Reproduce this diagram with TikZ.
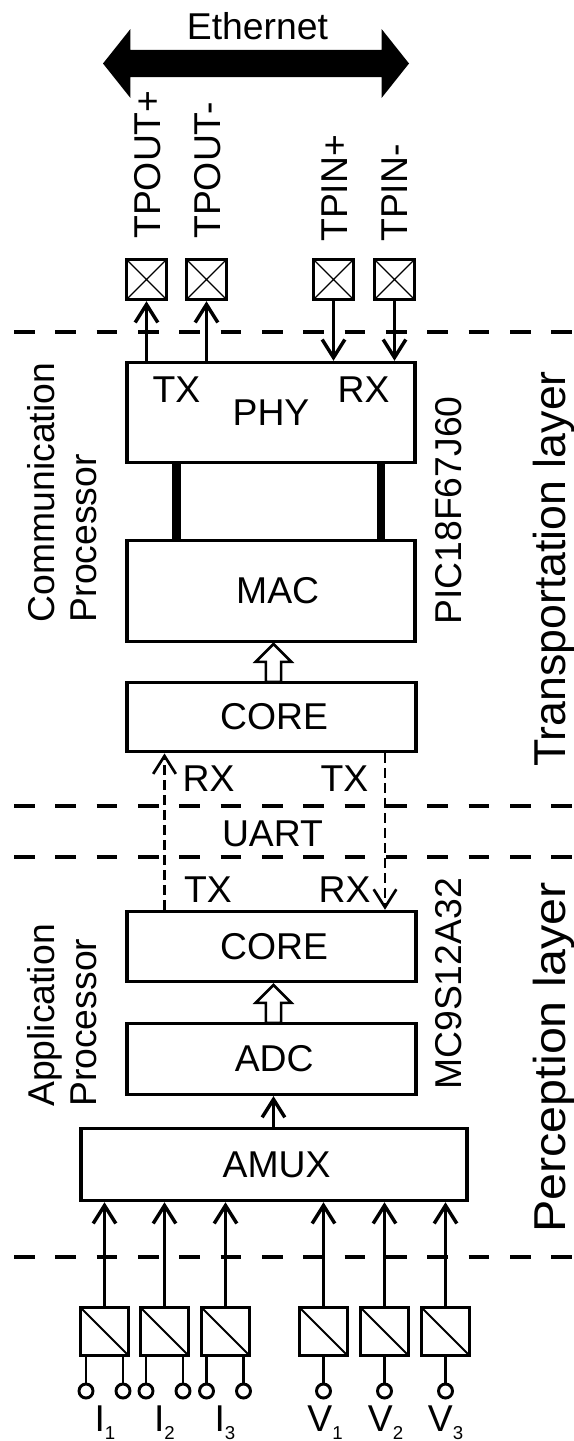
\documentclass[tikz,border=0pt]{standalone}
\usepackage{fontspec}
\setmainfont{Liberation Sans}
\usetikzlibrary{arrows.meta,calc,positioning,shapes.arrows}

\tikzset{
blockbox/.style={draw,line width=2.6pt,inner sep=0pt,font=\lbl},
padbox/.style={draw,line width=2.6pt,minimum size=30pt,inner sep=0pt,
  path picture={\draw[line width=1pt] (path picture bounding box.north west)--(path picture bounding box.south east)
  (path picture bounding box.north east)--(path picture bounding box.south west);}},
adcbox/.style={draw,line width=2.4pt,minimum size=36pt,inner sep=0pt,
  path picture={\draw[line width=1.5pt] (path picture bounding box.north west)--(path picture bounding box.south east);}},
term/.style={draw,circle,line width=2.2pt,minimum size=10.5pt,inner sep=0pt},
lab/.style={inner sep=0pt,font=\lbl},
vlab/.style={inner sep=0pt,font=\lbl,rotate=90,anchor=base west},
wire/.style={line width=2.4pt,-{Straight Barb[length=13.5pt,width=17pt,line width=2.6pt]}},
lowwire/.style={line width=1.9pt,-{Straight Barb[length=13.5pt,width=17pt,line width=2.6pt]}},
thinwire/.style={line width=1.7pt},
dashwire/.style={line width=1.6pt,dash pattern=on 7.5pt off 3.75pt,-{Straight Barb[length=13.5pt,width=17pt,line width=2pt]}},
levelline/.style={line width=2.6pt,dash pattern=on 15.5pt off 15.5pt},
hollow/.style={draw,line width=1.9pt,single arrow,shape border rotate=90,minimum height=28.5pt,
  single arrow head extend=7.6pt,inner sep=4.8pt,outer sep=0pt,anchor=tail},
}
\newcommand{\lbl}{\fontsize{28}{31.5}\selectfont}
\newcommand{\lowsub}[1]{\raisebox{-6pt}{\fontsize{14}{14}\selectfont #1}}

\begin{document}
\begin{tikzpicture}[x=0.75pt,y=-0.75pt]
\useasboundingbox (0,0) rectangle (574,1441);

% ethernet bus
\node[fill=black,double arrow,minimum height=229.5pt,double arrow head extend=15.4pt,
  double arrow tip angle=103,inner ysep=10.1pt,inner xsep=0pt] (bus) at (256,63.5) {};
\node[lab,anchor=base] (ethernet) at (257.5,40) {Ethernet};

% pads
\node[padbox] (padA) at (146.5,279.5) {};
\node[padbox] (padB) at (206.5,279.5) {};
\node[padbox] (padC) at (333.5,279.5) {};
\node[padbox] (padD) at (394.5,279.5) {};
\node[vlab] (tpoutp) at (160,239) {TPOUT+};
\node[vlab] (tpoutm) at (220,239) {TPOUT-};
\node[vlab] (tpinp) at (347,242) {TPIN+};
\node[vlab] (tpinm) at (407,242) {TPIN-};

% level lines
\coordinate (la) at (14,332);  \coordinate (lb) at (574,332);
\coordinate (lc) at (14,806);  \coordinate (ld) at (574,806);
\coordinate (le) at (14,857);  \coordinate (lf) at (574,857);
\coordinate (lg) at (14,1257); \coordinate (lh) at (574,1257);
\draw[levelline] (la) -- (lb);
\draw[levelline] (lc) -- (ld);
\draw[levelline] (le) -- (lf);
\draw[levelline] (lg) -- (lh);

% blocks
\node[blockbox,minimum width=216pt,minimum height=75pt] (phy) at (271,412.5) {PHY};
\node[blockbox,minimum width=216pt,minimum height=76pt] (mac) at (271,591) {\hspace*{10pt}MAC};
\node[blockbox,minimum width=217pt,minimum height=52pt] (corec) at (271.5,717) {\hspace*{4pt}CORE};
\node[blockbox,minimum width=217pt,minimum height=52.5pt] (corea) at (271.5,946.5) {\hspace*{4pt}CORE};
\node[blockbox,minimum width=217pt,minimum height=53pt] (adc) at (271.5,1059) {\hspace*{4pt}ADC};
\node[blockbox,minimum width=289.5pt,minimum height=54pt] (amux) at (274,1164.5) {\hspace*{4pt}AMUX};

% pad wires
\draw[wire] (phy.north -| padA) -- (padA.south);
\draw[wire] (phy.north -| padB) -- (padB.south);
\draw[wire] (padC.south) -- (phy.north -| padC);
\draw[wire] (padD.south) -- (phy.north -| padD);

% phy to mac
\coordinate (busl) at (176.5,0);
\coordinate (busr) at (381,0);
\draw[line width=6.6pt] (phy.south -| busl) -- (mac.north -| busl);
\draw[line width=6.6pt] (phy.south -| busr) -- (mac.north -| busr);

% hollow arrows
\node[hollow] (uparrowc) at (273.5,682) {};
\node[hollow] (uparrowa) at (273.5,1023) {};

% uart
\coordinate (rxl) at (164.5,0);
\coordinate (txr) at (385,0);
\draw[dashwire] (corea.north -| rxl) -- (corec.south -| rxl);
\draw[dashwire] (corec.south -| txr) -- (corea.north -| txr);

\node[lab] (phytx) at (176.5,390) {TX};
\node[lab] (phyrx) at (363.5,390) {RX};
\node[lab] (corerx) at (208.5,778.5) {RX};
\node[lab] (coretx) at (344.5,778.5) {TX};
\node[lab] (uart) at (272.5,833.5) {UART};
\node[lab] (apptx) at (208,889.5) {TX};
\node[lab] (apprx) at (344.5,889.5) {RX};

% adc to amux
\coordinate (muxout) at (273.5,0);
\draw[lowwire] (amux.north -| muxout) -- (adc.south -| muxout);

% converters
\node[adcbox] (convA) at (104.5,1331.5) {};
\node[adcbox] (convB) at (164.5,1331.5) {};
\node[adcbox] (convC) at (225.5,1331.5) {};
\node[adcbox] (convD) at (323.5,1331.5) {};
\node[adcbox] (convE) at (384.5,1331.5) {};
\node[adcbox] (convF) at (445.5,1331.5) {};
\draw[lowwire] (convA.north) -- (amux.south -| convA);
\draw[lowwire] (convB.north) -- (amux.south -| convB);
\draw[lowwire] (convC.north) -- (amux.south -| convC);
\draw[lowwire] (convD.north) -- (amux.south -| convD);
\draw[lowwire] (convE.north) -- (amux.south -| convE);
\draw[lowwire] (convF.north) -- (amux.south -| convF);

% terminals
\node[term] (ia) at (86,1391) {};
\node[term] (ib) at (123,1391) {};
\node[term] (ic) at (146,1391) {};
\node[term] (id) at (183,1391) {};
\node[term] (ie) at (206.5,1391) {};
\node[term] (if) at (243.5,1391) {};
\node[term] (va) at (323.5,1391) {};
\node[term] (vb) at (384.5,1391) {};
\node[term] (vc) at (445.5,1391) {};
\draw[thinwire] (ia) -- (convA.south -| ia);
\draw[thinwire] (ib) -- (convA.south -| ib);
\draw[thinwire] (ic) -- (convB.south -| ic);
\draw[thinwire] (id) -- (convB.south -| id);
\draw[thinwire] (ie) -- (convC.south -| ie);
\draw[thinwire] (if) -- (convC.south -| if);
\draw[thinwire] (va) -- (convD.south);
\draw[thinwire] (vb) -- (convE.south);
\draw[thinwire] (vc) -- (convF.south);
\node[lab,anchor=base] (ione) at (105,1431) {I\lowsub{1}};
\node[lab,anchor=base] (itwo) at (164.5,1431) {I\lowsub{2}};
\node[lab,anchor=base] (ithree) at (225,1431) {I\lowsub{3}};
\node[lab,anchor=base] (vone) at (325,1431) {V\lowsub{1}};
\node[lab,anchor=base] (vtwo) at (385.5,1431) {V\lowsub{2}};
\node[lab,anchor=base] (vthree) at (445.5,1431) {V\lowsub{3}};

% side labels
\node[lab,rotate=90,align=left] (commproc) at (62,492.5) {Communication\\Processor};
\node[lab,rotate=90,align=left] (appproc) at (62,1015.5) {Application\\Processor};
\node[vlab] (pic) at (461,625) {PIC18F67J60};
\node[vlab] (mcs) at (461,1090) {MC9S12A32};
\node[vlab,font=\fontsize{33.5}{37}\selectfont] (translayer) at (565,767) {Transportation layer};
\node[vlab,font=\fontsize{33.5}{37}\selectfont,xscale=1.085] (perclayer) at (565,1233) {Perception layer};
\end{tikzpicture}
\end{document}
